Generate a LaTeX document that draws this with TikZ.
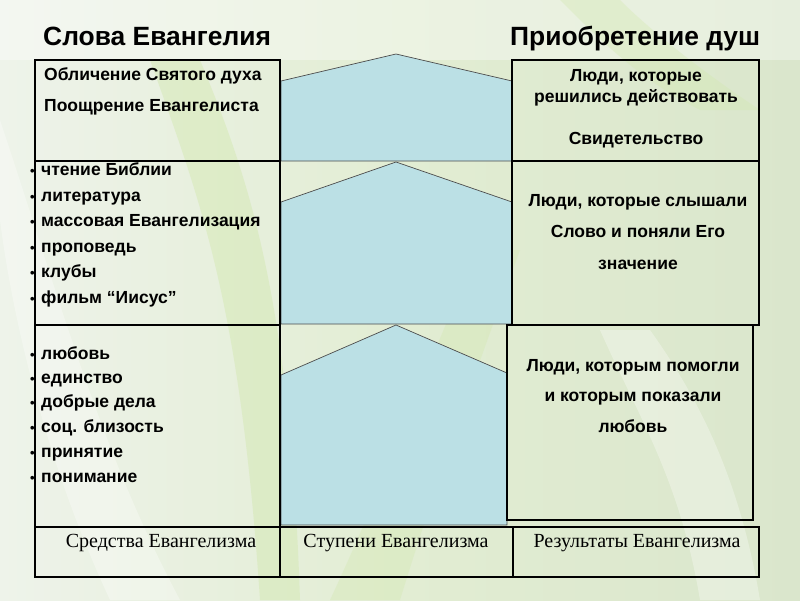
\documentclass[tikz,border=0pt]{standalone}
\usepackage{fontspec}
\setmainfont{Liberation Serif}
\newfontfamily\ar{Liberation Sans}
\definecolor{pent}{HTML}{BBE0E5}
\definecolor{bgA}{HTML}{EEF3EA}
\definecolor{bgB}{HTML}{E2EDD3}
\definecolor{bgC}{HTML}{DAE6CC}
\definecolor{streak}{HTML}{D2E8AE}
\begin{document}
\begin{tikzpicture}[x=1pt,y=-1pt,
  cell/.style={draw=black, line width=1.6pt},
  pentshape/.style={fill=pent, draw=black!70, line width=0.7pt},
  title/.style={anchor=base west, inner sep=0, font=\ar\bfseries\fontsize{26.4}{30}\selectfont},
  lt/.style={anchor=west, inner sep=0, text height=9pt, text depth=0pt, font=\ar\bfseries\fontsize{17.5}{20}\selectfont},
  ct/.style={anchor=center, inner sep=0, text height=9pt, text depth=0pt, font=\ar\bfseries\fontsize{17.5}{20}\selectfont},
  bul/.style={anchor=west, inner sep=0, text height=9pt, text depth=0pt, font=\ar\bfseries\fontsize{13}{15}\selectfont},
  bt/.style={anchor=center, inner sep=0, text height=9pt, text depth=0pt, font=\fontsize{20}{24}\selectfont}
]
\useasboundingbox (0,0) rectangle (800,600);
% background
\shade[left color=bgA, right color=bgC, middle color=bgB] (0,0) rectangle (800,600);
\fill[white, opacity=0.35] (0,0) rectangle (800,60);
\fill[white, opacity=0.3] (0,120) .. controls (60,300) and (100,450) .. (180,600) -- (110,600) .. controls (40,450) and (10,300) .. (0,220) -- cycle;
\fill[streak, opacity=0.45] (150,60) .. controls (200,200) and (240,300) .. (260,600) -- (300,600) .. controls (290,300) and (250,180) .. (200,60) -- cycle;
\fill[streak, opacity=0.35] (330,600) .. controls (400,450) and (430,350) .. (480,250) -- (520,250) .. controls (480,360) and (440,470) .. (400,600) -- cycle;
\fill[white, opacity=0.3] (600,330) .. controls (640,420) and (680,480) .. (700,600) -- (760,600) .. controls (740,480) and (700,400) .. (650,330) -- cycle;
\fill[streak, opacity=0.35] (560,0) .. controls (600,40) and (640,80) .. (700,110) -- (760,110) .. controls (700,70) and (650,30) .. (620,0) -- cycle;

% pentagons
\draw[pentshape] (281,161) -- (281,81) -- (396,54) -- (512,81) -- (512,161) -- cycle;
\draw[pentshape] (281,324) -- (281,202) -- (396,162) -- (512,202) -- (512,324) -- cycle;
\draw[pentshape] (281,525) -- (281,375) -- (396,325) -- (507,373) -- (507,525) -- cycle;

% left column
\draw[cell] (35,60) rectangle (280,161);
\draw[cell] (35,161) rectangle (280,325);
\draw[cell] (35,325) rectangle (280,527);
% right column
\draw[cell] (512,60) rectangle (759,161);
\draw[cell] (512,161) rectangle (759,325);
\draw[cell] (507,325) rectangle (753,520);
% bottom row
\draw[cell] (35,527) rectangle (280,577);
\draw[cell] (280,527) rectangle (513,577);
\draw[cell] (513,527) rectangle (759,577);

% titles
\node[title] (t1) at (43,45) {Слова Евангелия};
\node[title] (t2) at (510,45) {Приобретение душ};

% left box 1
\node[lt] (l1a) at (44,76) {Обличение Святого духа};
\node[lt] (l1b) at (44,107) {Поощрение Евангелиста};

% left box 2 list
\foreach \y/\t [count=\i] in {171/чтение Библии, 197/литература, 222/массовая Евангелизация, 248/проповедь, 273/клубы, 299/фильм “Иисус”}{
  \node[bul] (b2\i) at (30,\y) {•};
  \node[lt] (l2\i) at (41,\y) {\t};
}
% left box 3 list
\foreach \y/\t [count=\i] in {355/любовь, 379/единство, 403/добрые дела, 428/соц. близость, 453/принятие, 478/понимание}{
  \node[bul] (b3\i) at (30,\y) {•};
  \node[lt] (l3\i) at (41,\y) {\t};
}

% right boxes
\node[ct] (r1a) at (636,77) {Люди, которые};
\node[ct] (r1b) at (636,98) {решились действовать};
\node[ct] (r1c) at (636,140) {Свидетельство};
\node[ct] (r2a) at (638,202) {Люди, которые слышали};
\node[ct] (r2b) at (638,233) {Слово и поняли Его};
\node[ct] (r2c) at (638,265) {значение};
\node[ct] (r3a) at (633,367) {Люди, которым помогли};
\node[ct] (r3b) at (633,397) {и которым показали};
\node[ct] (r3c) at (633,428) {любовь};

% bottom row texts
\node[bt] (s1) at (161,543) {Средства Евангелизма};
\node[bt] (s2) at (396,543) {Ступени Евангелизма};
\node[bt] (s3) at (637,543) {Результаты Евангелизма};
\end{tikzpicture}
\end{document}
